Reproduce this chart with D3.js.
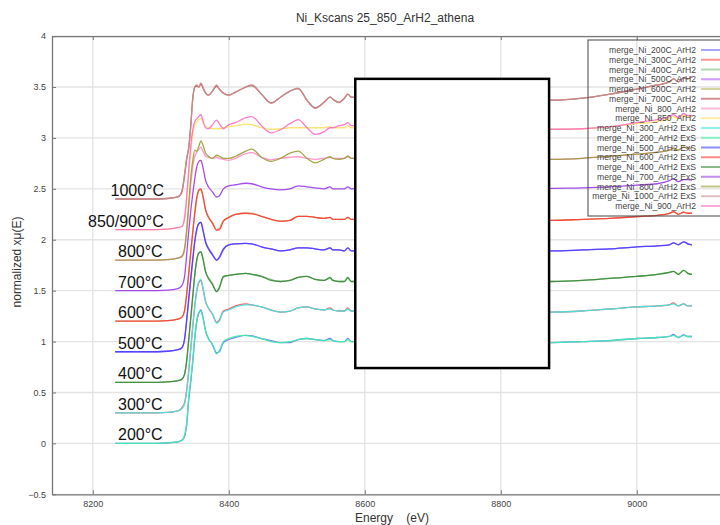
<!DOCTYPE html>
<html lang="en">
<head>
<meta charset="utf-8">
<title>Ni_Kscans 25_850_ArH2_athena</title>
<script src="https://d3js.org/d3.v7.min.js"></script>
<style>
    body { margin: 0; background: #fff; }
    text { font-family: "Liberation Sans", Arial, sans-serif; }
</style>
</head>
<body>
<script>

// energy grid (eV) shared by all scans
var energy = [8233, 8280, 8310, 8325,
    8331, 8335, 8338, 8341, 8344, 8347, 8350, 8353, 8356, 8359,
    8362, 8366, 8370, 8376, 8382, 8386, 8392, 8400,
    8410, 8425, 8434, 8448, 8462, 8476, 8490, 8502, 8515, 8527, 8540, 8549,
    8553, 8562, 8570, 8575, 8580,
    8650, 8750, 8850, 8875, 8920, 8960, 9000, 9030, 9048, 9054, 9061, 9069, 9075, 9081];

// normalized xmu(E) (stack offset removed)
var mu200C = [0, 0, 0.005, 0.015,
    0.03, 0.07, 0.18, 0.42, 0.60, 0.80, 1.03, 1.20, 1.28, 1.31,
    1.24, 1.10, 1.03, 0.97, 0.89, 0.90, 0.99, 1.02,
    1.04, 1.06, 1.055, 1.03, 1.01, 0.99, 0.99, 1.02, 1.03, 1.02, 1.01, 1.03,
    1.01, 1.00, 1.00, 1.03, 1.00,
    1.00, 1.00, 0.99, 0.99, 1.00, 1.01, 1.03, 1.04, 1.05, 1.07, 1.04, 1.065, 1.05, 1.05];
var mu300C = [0, 0, 0.005, 0.02,
    0.05, 0.10, 0.22, 0.40, 0.62, 0.85, 1.05, 1.20, 1.28, 1.30,
    1.22, 1.09, 1.03, 0.97, 0.89, 0.91, 1.00, 1.02,
    1.05, 1.07, 1.06, 1.04, 1.01, 0.99, 1.00, 1.03, 1.04, 1.02, 1.01, 1.03,
    1.01, 1.00, 1.00, 1.03, 1.00,
    1.00, 1.00, 0.99, 0.99, 1.00, 1.02, 1.04, 1.05, 1.06, 1.08, 1.05, 1.07, 1.05, 1.05];
var mu400C = [0, 0, 0.005, 0.015,
    0.03, 0.08, 0.20, 0.40, 0.62, 0.84, 1.05, 1.20, 1.27, 1.28,
    1.22, 1.09, 1.03, 0.97, 0.89, 0.92, 1.03, 1.05,
    1.06, 1.07, 1.06, 1.04, 1.01, 0.99, 1.00, 1.03, 1.04, 1.01, 1.00, 1.02,
    1.00, 0.99, 0.99, 1.02, 0.99,
    0.99, 0.99, 0.99, 0.99, 1.00, 1.02, 1.04, 1.06, 1.08, 1.09, 1.06, 1.10, 1.07, 1.06];
var mu500C = [0, 0, 0.005, 0.02,
    0.04, 0.12, 0.30, 0.50, 0.70, 0.90, 1.08, 1.20, 1.26, 1.27,
    1.20, 1.08, 1.02, 0.96, 0.90, 0.92, 1.00, 1.05,
    1.06, 1.065, 1.06, 1.03, 1.01, 0.99, 1.00, 1.02, 1.02, 1.01, 1.00, 1.02,
    1.00, 1.00, 0.99, 1.02, 0.99,
    0.99, 0.99, 0.99, 0.99, 1.00, 1.01, 1.03, 1.04, 1.05, 1.07, 1.05, 1.08, 1.06, 1.05];
var mu600C = [0, 0, 0.005, 0.02,
    0.04, 0.10, 0.25, 0.45, 0.66, 0.86, 1.05, 1.20, 1.28, 1.29,
    1.22, 1.09, 1.03, 0.97, 0.90, 0.91, 0.99, 1.02,
    1.05, 1.06, 1.06, 1.03, 1.00, 0.985, 0.99, 1.03, 1.03, 1.02, 1.01, 1.02,
    1.00, 1.00, 1.00, 1.02, 1.00,
    1.00, 1.00, 0.99, 0.99, 1.00, 1.01, 1.03, 1.04, 1.06, 1.075, 1.05, 1.07, 1.06, 1.06];
var mu700C = [0, 0, 0.005, 0.02,
    0.07, 0.23, 0.39, 0.50, 0.72, 0.99, 1.10, 1.11, 1.10, 1.13,
    1.09, 1.04, 1.02, 1.06, 1.11, 1.08, 1.04, 1.02,
    1.05, 1.10, 1.115, 1.03, 0.945, 1.00, 1.06, 1.085, 0.97, 0.895, 0.95, 1.00,
    0.98, 0.95, 0.99, 1.03, 1.00,
    0.98, 0.97, 0.97, 0.97, 0.99, 1.03, 1.08, 1.12, 1.15, 1.18, 1.15, 1.19, 1.18, 1.20];
var mu800 = [0, 0, 0.005, 0.02,
    0.03, 0.10, 0.26, 0.50, 0.74, 0.92, 1.02, 1.06, 1.09, 1.11,
    1.07, 1.02, 1.01, 1.00, 1.01, 1.00, 0.99, 0.98,
    1.00, 1.045, 1.055, 1.01, 0.985, 1.00, 1.01, 1.015, 1.00, 0.99, 1.00, 1.01,
    1.00, 1.00, 1.00, 1.02, 1.00,
    1.00, 1.00, 0.99, 0.99, 1.00, 1.02, 1.04, 1.06, 1.08, 1.10, 1.08, 1.11, 1.10, 1.10];
var mu850 = [0, 0, 0.005, 0.02,
    0.03, 0.10, 0.28, 0.52, 0.76, 0.94, 1.03, 1.06, 1.08, 1.09,
    1.05, 1.01, 1.00, 0.99, 0.99, 0.99, 1.00, 1.01,
    1.02, 1.035, 1.03, 1.00, 0.985, 0.99, 1.00, 1.00, 1.00, 1.00, 1.00, 1.01,
    1.00, 1.00, 1.00, 1.02, 1.00,
    1.00, 1.00, 0.99, 0.985, 0.99, 1.01, 1.04, 1.06, 1.09, 1.11, 1.09, 1.12, 1.11, 1.11];
var mu300E = [0, 0, 0.005, 0.02,
    0.04, 0.09, 0.21, 0.42, 0.63, 0.84, 1.05, 1.21, 1.29, 1.31,
    1.23, 1.09, 1.03, 0.97, 0.88, 0.90, 0.99, 1.01,
    1.04, 1.06, 1.06, 1.04, 1.01, 0.99, 1.00, 1.03, 1.04, 1.02, 1.01, 1.02,
    1.01, 1.00, 1.00, 1.02, 1.00,
    1.00, 1.00, 0.99, 0.99, 1.00, 1.02, 1.04, 1.05, 1.06, 1.07, 1.05, 1.07, 1.05, 1.05];
var mu200E = [0, 0, 0.005, 0.015,
    0.03, 0.08, 0.20, 0.45, 0.62, 0.82, 1.05, 1.21, 1.29, 1.30,
    1.23, 1.10, 1.03, 0.97, 0.88, 0.91, 1.00, 1.03,
    1.05, 1.06, 1.05, 1.03, 1.00, 0.99, 1.00, 1.02, 1.03, 1.02, 1.01, 1.02,
    1.01, 1.00, 1.00, 1.02, 1.00,
    1.00, 1.00, 0.99, 0.99, 1.00, 1.01, 1.03, 1.04, 1.05, 1.06, 1.04, 1.06, 1.05, 1.05];
var mu500E = [0, 0, 0.005, 0.02,
    0.04, 0.13, 0.31, 0.52, 0.72, 0.91, 1.09, 1.21, 1.26, 1.27,
    1.19, 1.07, 1.01, 0.95, 0.90, 0.93, 1.01, 1.05,
    1.06, 1.065, 1.06, 1.03, 1.01, 0.99, 1.00, 1.02, 1.02, 1.01, 1.00, 1.02,
    1.00, 1.00, 0.99, 1.02, 0.99,
    0.99, 0.99, 0.99, 0.99, 1.00, 1.01, 1.03, 1.04, 1.05, 1.07, 1.05, 1.08, 1.06, 1.05];
var mu600E = [0, 0, 0.005, 0.02,
    0.04, 0.11, 0.27, 0.47, 0.68, 0.88, 1.07, 1.22, 1.29, 1.30,
    1.23, 1.09, 1.02, 0.96, 0.895, 0.90, 0.98, 1.02,
    1.05, 1.06, 1.055, 1.03, 1.00, 0.98, 0.99, 1.03, 1.03, 1.02, 1.01, 1.02,
    1.00, 1.00, 1.00, 1.02, 1.00,
    1.00, 1.00, 0.99, 0.99, 1.00, 1.01, 1.026, 1.04, 1.06, 1.075, 1.05, 1.07, 1.06, 1.06];
var mu400E = [0, 0, 0.005, 0.015,
    0.03, 0.08, 0.21, 0.42, 0.63, 0.85, 1.06, 1.21, 1.27, 1.28,
    1.21, 1.08, 1.02, 0.96, 0.89, 0.93, 1.04, 1.05,
    1.06, 1.07, 1.06, 1.04, 1.00, 0.99, 1.00, 1.03, 1.04, 1.01, 1.00, 1.03,
    1.00, 0.99, 0.99, 1.03, 0.99,
    0.99, 0.99, 0.99, 0.99, 1.00, 1.02, 1.04, 1.06, 1.08, 1.09, 1.06, 1.10, 1.07, 1.06];
var mu700E = [0, 0, 0.005, 0.02,
    0.05, 0.14, 0.35, 0.58, 0.78, 0.95, 1.10, 1.22, 1.27, 1.28,
    1.21, 1.08, 1.02, 0.97, 0.92, 0.93, 1.00, 1.03,
    1.04, 1.055, 1.05, 1.02, 1.00, 0.99, 1.00, 1.03, 1.02, 1.01, 1.00, 1.02,
    1.00, 1.00, 1.00, 1.02, 1.00,
    1.00, 1.00, 1.00, 1.005, 1.01, 1.02, 1.037, 1.05, 1.08, 1.10, 1.07, 1.09, 1.09, 1.086];
var mu800E = [0, 0, 0.005, 0.02,
    0.04, 0.12, 0.30, 0.55, 0.80, 0.98, 1.08, 1.07, 1.12, 1.17,
    1.13, 1.05, 1.02, 1.00, 1.03, 1.02, 1.00, 1.00,
    1.02, 1.07, 1.09, 1.01, 0.97, 1.00, 1.05, 1.07, 1.00, 0.955, 0.99, 1.015,
    1.00, 0.99, 1.00, 1.02, 1.00,
    1.00, 1.00, 0.99, 0.99, 1.00, 1.02, 1.04, 1.06, 1.08, 1.10, 1.08, 1.11, 1.10, 1.10];
var mu1000E = [0, 0, 0.005, 0.02,
    0.08, 0.25, 0.40, 0.50, 0.70, 0.98, 1.10, 1.12, 1.10, 1.14,
    1.10, 1.04, 1.02, 1.06, 1.12, 1.08, 1.04, 1.02,
    1.05, 1.10, 1.12, 1.03, 0.94, 1.00, 1.06, 1.09, 0.97, 0.89, 0.95, 1.00,
    0.98, 0.946, 0.99, 1.03, 1.00,
    0.98, 0.97, 0.97, 0.97, 0.99, 1.03, 1.08, 1.12, 1.15, 1.18, 1.15, 1.19, 1.18, 1.20];
var mu900 = [0, 0, 0.005, 0.02,
    0.03, 0.12, 0.32, 0.58, 0.82, 0.98, 1.06, 1.09, 1.11, 1.13,
    1.07, 1.00, 0.99, 1.03, 1.075, 1.04, 0.99, 1.03,
    1.05, 1.10, 1.11, 1.02, 0.95, 0.98, 1.04, 1.08, 1.00, 0.935, 0.96, 1.00,
    1.00, 1.02, 1.03, 1.05, 1.02,
    1.02, 1.00, 0.99, 0.985, 0.99, 1.01, 1.05, 1.08, 1.11, 1.13, 1.10, 1.14, 1.12, 1.12];

// legend order
var seriesNames = ["merge_Ni_200C_ArH2", "merge_Ni_300C_ArH2", "merge_Ni_400C_ArH2",
    "merge_Ni_500C_ArH2", "merge_Ni_600C_ArH2", "merge_Ni_700C_ArH2", "merge_Ni_800_ArH2",
    "merge_Ni_850_ArH2", "merge_Ni_300_ArH2 ExS", "merge_Ni_200_ArH2 ExS",
    "merge_Ni_500_ArH2 ExS", "merge_Ni_600_ArH2 ExS", "merge_Ni_400_ArH2 ExS",
    "merge_Ni_700_ArH2 ExS", "merge_Ni_800_ArH2 ExS", "merge_Ni_1000_ArH2 ExS",
    "merge_Ni_900_ArH2"];
var seriesMu = [mu200C, mu300C, mu400C, mu500C, mu600C, mu700C, mu800, mu850,
    mu300E, mu200E, mu500E, mu600E, mu400E, mu700E, mu800E, mu1000E, mu900];
var seriesOffset = [0, 0.3, 0.6, 0.9, 1.2, 2.4, 1.8, 2.1, 0.3, 0, 0.9, 1.2, 0.6, 1.5, 1.8, 2.4, 2.1];
var seriesColor = ["#6a6aff", "#ff4a4a", "#7fbf7f", "#b455ff", "#b8b860", "#b84848",
    "#ff8cc8", "#ffe066", "#3ee8e8", "#3cf0a8", "#4444ff", "#ff3b3b", "#3a8a3a",
    "#9a3ae8", "#9c9c3a", "#c89090", "#ff6ec4"];

// hand-written temperature annotations
var tempLabels = ["200°C", "300°C", "400°C", "500°C", "600°C", "700°C", "800°C", "850/900°C", "1000°C"];
var tempOffsets = [0, 0.3, 0.6, 0.9, 1.2, 1.5, 1.8, 2.1, 2.4];

var xTickValues = [8200, 8400, 8600, 8800, 9000];
var yTickValues = [-0.5, 0, 0.5, 1, 1.5, 2, 2.5, 3, 3.5, 4];

var w = 720, h = 525;
var plotLeft = 52, plotTop = 36.1, plotBottom = 494.3;

var xScale = d3.scaleLinear().domain([8140, 9150]).range([plotLeft, 738.8]);
var yScale = d3.scaleLinear().domain([-0.5, 4]).range([plotBottom, plotTop]);

var svg = d3.select("body").append("svg")
    .attr("width", w)
    .attr("height", h);

svg.append("defs").append("clipPath").attr("id", "plotclip")
    .append("rect")
    .attr("x", plotLeft).attr("y", plotTop)
    .attr("width", w - plotLeft).attr("height", plotBottom - plotTop);

// grid
svg.append("g").selectAll("line").data(xTickValues).enter().append("line")
    .attr("x1", d => xScale(d)).attr("x2", d => xScale(d))
    .attr("y1", plotTop).attr("y2", plotBottom)
    .attr("stroke", "#e3e3e3").attr("stroke-width", 1.3);
svg.append("g").selectAll("line").data(yTickValues).enter().append("line")
    .attr("x1", plotLeft).attr("x2", w)
    .attr("y1", d => yScale(d)).attr("y2", d => yScale(d))
    .attr("stroke", "#e3e3e3").attr("stroke-width", 1.3);

// curves
var line = d3.line()
    .x(d => xScale(d[0]))
    .y(d => yScale(d[1]))
    .curve(d3.curveMonotoneX);

var curves = svg.append("g").attr("clip-path", "url(#plotclip)");
seriesMu.forEach(function (mu, i) {
    var pts = energy.map((e, j) => [e, mu[j] + seriesOffset[i]]);
    curves.append("path")
        .datum(pts)
        .attr("d", line)
        .attr("fill", "none")
        .attr("stroke", seriesColor[i])
        .attr("stroke-width", 1.3)
        .attr("stroke-opacity", 0.9);
});

// white box pasted over the middle of the plot
var boxE = [8586, 8871], boxV = [0.74, 3.58];
svg.append("rect")
    .attr("x", xScale(boxE[0]))
    .attr("y", yScale(boxV[1]))
    .attr("width", xScale(boxE[1]) - xScale(boxE[0]))
    .attr("height", yScale(boxV[0]) - yScale(boxV[1]))
    .attr("fill", "#fff")
    .attr("stroke", "#000")
    .attr("stroke-width", 2.5);

// temperature labels
svg.append("g").selectAll("text").data(tempLabels).enter().append("text")
    .attr("x", d => 118 - Math.max(0, d.length - 5) * 7.5)
    .attr("y", (d, i) => yScale(tempOffsets[i]) - 3)
    .attr("font-size", "16px")
    .attr("fill", "#111")
    .text(d => d);

// axes
var axisColor = "#777";
var gx = svg.append("g").attr("transform", "translate(0," + plotBottom + ")")
    .call(d3.axisBottom(xScale).tickValues(xTickValues).tickSizeInner(-4)
        .tickSizeOuter(0).tickPadding(6).tickFormat(d3.format("d")));
var gy = svg.append("g").attr("transform", "translate(" + plotLeft + ",0)")
    .call(d3.axisLeft(yScale).tickValues(yTickValues).tickSizeInner(-4)
        .tickSizeOuter(0).tickPadding(6).tickFormat(d3.format("")));
var gt = svg.append("g").attr("transform", "translate(0," + plotTop + ")")
    .call(d3.axisTop(xScale).tickValues(xTickValues).tickSizeInner(-4)
        .tickSizeOuter(0).tickFormat(""));
[gx, gy, gt].forEach(function (g) {
    g.select(".domain").attr("stroke", axisColor).attr("stroke-width", 1.3);
    g.selectAll(".tick line").attr("stroke", axisColor);
    g.selectAll("text").attr("fill", "#444").attr("font-size", "9px")
        .attr("font-family", "'Liberation Sans', Arial, sans-serif");
});

// legend
var legendTop = 40, legendRow = 9.75;
var legend = svg.append("g");
legend.append("rect")
    .attr("x", 588).attr("y", legendTop)
    .attr("width", 150).attr("height", 176)
    .attr("fill", "none")
    .attr("stroke", "#444").attr("stroke-width", 1);
var items = legend.selectAll("g.item").data(seriesNames).enter().append("g")
    .attr("transform", (d, i) => "translate(0," + (legendTop + 10 + i * legendRow) + ")");
items.append("text")
    .attr("x", 696).attr("y", 3)
    .attr("text-anchor", "end")
    .attr("font-size", "8.6px")
    .attr("fill", "#444")
    .text(d => d);
items.append("line")
    .attr("x1", 701).attr("x2", 740)
    .attr("y1", 0).attr("y2", 0)
    .attr("stroke", (d, i) => seriesColor[i])
    .attr("stroke-width", 2)
    .attr("stroke-opacity", 0.6);

// titles
svg.append("text")
    .attr("x", 385).attr("y", 22)
    .attr("text-anchor", "middle")
    .attr("font-size", "12px")
    .attr("fill", "#333")
    .text("Ni_Kscans 25_850_ArH2_athena");
svg.append("text")
    .attr("x", 392).attr("y", 522)
    .attr("text-anchor", "middle")
    .attr("font-size", "12px")
    .attr("fill", "#333")
    .attr("xml:space", "preserve")
    .style("white-space", "pre")
    .text("Energy    (eV)");
svg.append("text")
    .attr("transform", "translate(21,262) rotate(-90)")
    .attr("text-anchor", "middle")
    .attr("font-size", "12px")
    .attr("fill", "#333")
    .text("normalized xμ(E)");

</script>
</body>
</html>
